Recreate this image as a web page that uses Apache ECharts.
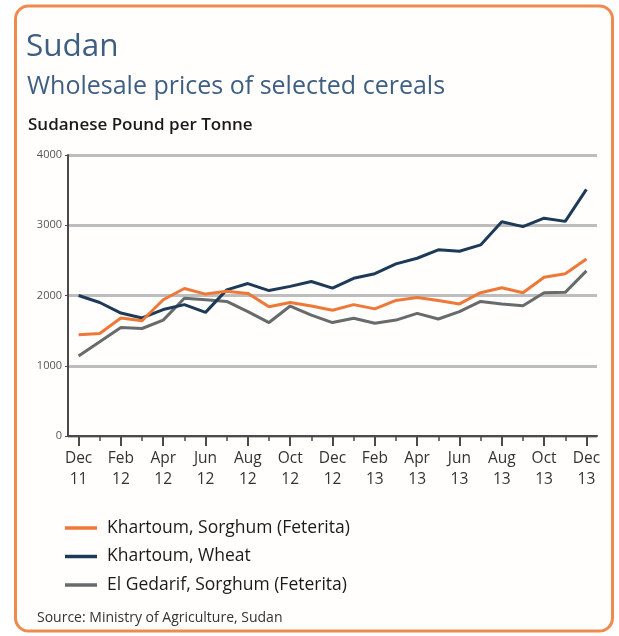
<!DOCTYPE html>
<html>
<head>
<meta charset="utf-8">
<script src="https://cdn.jsdelivr.net/npm/echarts@6/dist/echarts.min.js"></script>
<style>
  html, body { margin: 0; padding: 0; background: #ffffff; }
  #chart { width: 619px; height: 636px; }
</style>
</head>
<body>
<div id="chart"></div>
<script>
// Monthly observations, Dec 2011 – Dec 2013
const months = [
  'Dec 11', 'Jan 12', 'Feb 12', 'Mar 12', 'Apr 12', 'May 12', 'Jun 12', 'Jul 12', 'Aug 12',
  'Sep 12', 'Oct 12', 'Nov 12', 'Dec 12', 'Jan 13', 'Feb 13', 'Mar 13', 'Apr 13', 'May 13',
  'Jun 13', 'Jul 13', 'Aug 13', 'Sep 13', 'Oct 13', 'Nov 13', 'Dec 13'
];

// Sudanese Pound per Tonne
const khartoumSorghum = [
  1440, 1460, 1680, 1640, 1940, 2100, 2020, 2060, 2030, 1840, 1900, 1850, 1790,
  1870, 1810, 1930, 1970, 1930, 1880, 2040, 2110, 2040, 2260, 2310, 2520
];
const khartoumWheat = [
  2000, 1900, 1750, 1680, 1800, 1870, 1760, 2080, 2170, 2070, 2130, 2200, 2105,
  2245, 2310, 2450, 2530, 2650, 2630, 2720, 3050, 2980, 3100, 3055, 3510
];
const gedarifSorghum = [
  1140, 1340, 1545, 1530, 1650, 1960, 1940, 1915, 1770, 1615, 1850, 1720, 1615,
  1675, 1605, 1650, 1745, 1665, 1770, 1915, 1880, 1855, 2040, 2045, 2350
];

const yTicks = [0, 1000, 2000, 3000, 4000];

const seriesNames = [
  'Khartoum, Sorghum (Feterita)',
  'Khartoum, Wheat',
  'El Gedarif, Sorghum (Feterita)'
];
const seriesColors = ['#ee7837', '#1d3a58', '#676b6c'];
const seriesValues = [khartoumSorghum, khartoumWheat, gedarifSorghum];

const FONT = '"Open Sans", "Noto Sans", sans-serif';

const chart = echarts.init(document.getElementById('chart'), null, { renderer: 'canvas' });

const option = {
  animation: false,
  backgroundColor: '#ffffff',
  textStyle: { fontFamily: FONT },
  graphic: [
    {
      type: 'rect',
      shape: { x: 15.5, y: 6, width: 597, height: 625, r: 13 },
      style: { fill: '#fffefc', stroke: '#ef8a4f', lineWidth: 3 },
      z: -10
    },
    {
      type: 'text', left: 26, top: 31,
      style: { text: 'Sudan', font: '31.5px ' + FONT, fill: '#3f5f82' }
    },
    {
      type: 'text', left: 27, top: 74,
      style: { text: 'Wholesale prices of selected cereals', font: '25px ' + FONT, fill: '#3f5f82' }
    },
    {
      type: 'text', left: 28, top: 117,
      style: { text: 'Sudanese Pound per Tonne', font: '600 17px ' + FONT, fill: '#1a1a1a' }
    },
    {
      type: 'text', left: 37, top: 611,
      style: { text: 'Source: Ministry of Agriculture, Sudan', font: '14px ' + FONT, fill: '#333333' }
    }
  ],
  legend: {
    orient: 'vertical',
    left: 65,
    top: 519,
    itemWidth: 32,
    itemHeight: 3.5,
    itemGap: 10.5,
    icon: 'rect',
    padding: 0,
    data: seriesNames,
    textStyle: { fontFamily: FONT, fontSize: 17.5, color: '#1a1a1a', padding: [0, 0, 0, 5] },
    selectedMode: false
  },
  grid: { left: 68, right: 22, top: 155, bottom: 200, containLabel: false },
  xAxis: [
    {
      // minor ticks at every month
      type: 'category',
      data: months,
      boundaryGap: true,
      axisLine: { show: true, lineStyle: { color: '#4a4a4a', width: 2 } },
      axisTick: { show: true, alignWithLabel: true, interval: 0, length: 5, lineStyle: { color: '#4a4a4a', width: 1.5 } },
      axisLabel: { show: false }
    },
    {
      // major ticks and labels every second month
      type: 'category',
      data: months,
      position: 'bottom',
      boundaryGap: true,
      axisLine: { show: false },
      axisTick: { show: true, alignWithLabel: true, interval: 1, length: 10, lineStyle: { color: '#4a4a4a', width: 2 } },
      axisLabel: {
        show: true,
        interval: 1,
        margin: 12,
        fontFamily: FONT,
        fontSize: 15.5,
        lineHeight: 21,
        color: '#333333',
        formatter: v => v.replace(' ', '\n')
      }
    }
  ],
  yAxis: {
    type: 'value',
    min: yTicks[0],
    max: yTicks[yTicks.length - 1],
    interval: 1000,
    axisLine: { show: true, lineStyle: { color: '#4a4a4a', width: 2 } },
    axisTick: { show: true, length: 3, lineStyle: { color: '#4a4a4a' } },
    axisLabel: {
      fontFamily: FONT, fontSize: 11, color: '#555555', margin: 6,
      formatter: v => String(v)
    },
    splitLine: { show: true, lineStyle: { color: '#bdbdbd', width: 3 } }
  },
  series: seriesNames.map((name, i) => ({
    name,
    type: 'line',
    xAxisIndex: 0,
    data: seriesValues[i],
    symbol: 'none',
    lineStyle: { color: seriesColors[i], width: 3 },
    itemStyle: { color: seriesColors[i] },
    z: 3 - i
  }))
};

chart.setOption(option);
</script>
</body>
</html>
